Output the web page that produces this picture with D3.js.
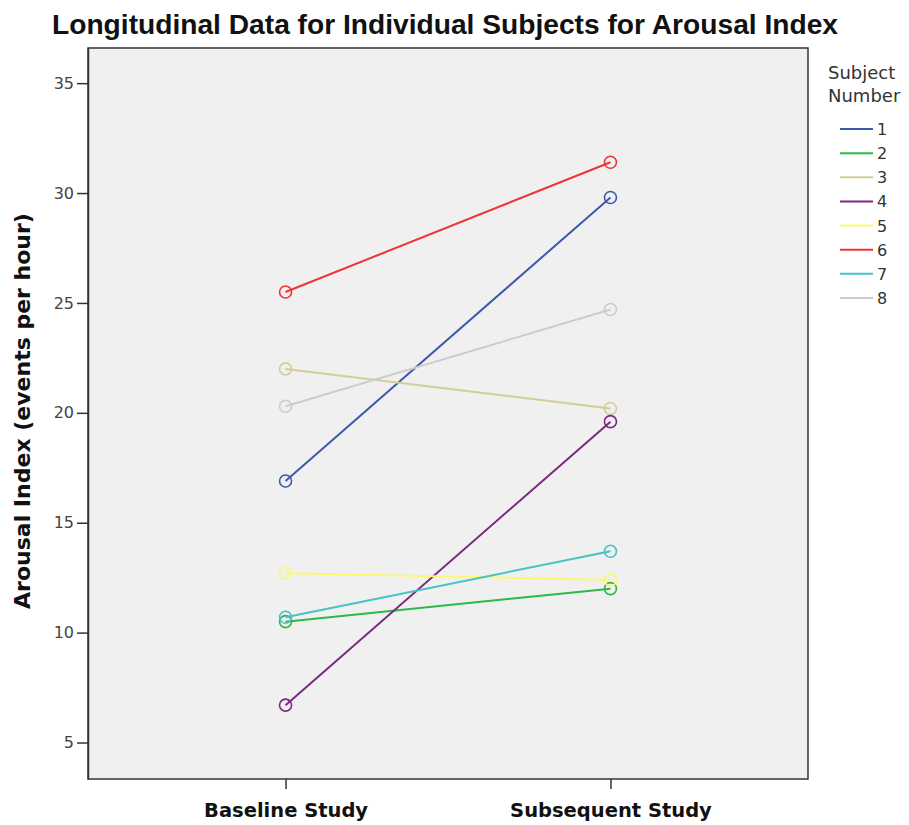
<!DOCTYPE html>
<html><head><meta charset="utf-8">
<script src="https://cdn.jsdelivr.net/npm/d3@7"></script>
<style>body{margin:0;background:#fff}svg{display:block}</style>
</head><body>
<script>
const categories = ["Baseline Study", "Subsequent Study"];
const subjects = ["1","2","3","4","5","6","7","8"];
const baseline   = [16.9, 10.5, 22.0, 6.7, 12.7, 25.5, 10.7, 20.3];
const subsequent = [29.8, 12.0, 20.2, 19.6, 12.4, 31.4, 13.7, 24.7];
const colors = ["#3E58AC","#2EB848","#D3CE97","#7C287D","#FBF873","#EF3338","#48C2C5","#CCCCCC"];
const yTicks = [5,10,15,20,25,30,35];

const W=909,H=825;
const L=88,R=808,T=48,B=779;
const svg=d3.select("body").append("svg").attr("width",W).attr("height",H);

const x=d3.scalePoint().domain(categories).range([L,R]).padding(0.608);
const y=d3.scaleLinear().domain([3.34,36.6]).range([B,T]);

svg.append("rect").attr("x",L).attr("y",T).attr("width",R-L).attr("height",B-T)
  .attr("fill","#F0F0F0").attr("stroke","#333").attr("stroke-width",1.5);

// y axis
const ya=svg.append("g").attr("transform",`translate(${L},0)`)
  .call(d3.axisLeft(y).tickValues(yTicks).tickSize(11).tickSizeOuter(0).tickPadding(3));
ya.select(".domain").attr("stroke","#333").attr("stroke-width",1.5);
ya.selectAll(".tick line").attr("stroke","#333").attr("stroke-width",1.5);
ya.selectAll(".tick text").attr("font-family","DejaVu Sans, sans-serif").attr("font-size",16).attr("fill","#444");

// x axis
const xa=svg.append("g").attr("transform",`translate(0,${B})`)
  .call(d3.axisBottom(x).tickSize(10).tickSizeOuter(0).tickPadding(14));
xa.select(".domain").remove();
xa.selectAll(".tick line").attr("stroke","#333").attr("stroke-width",1.5);
xa.selectAll(".tick text").attr("font-family","DejaVu Sans, sans-serif").attr("font-weight","bold").attr("font-size",19.5).attr("fill","#111");

// lines
const data=subjects.map((s,i)=>({s,c:colors[i],pts:[[categories[0],baseline[i]],[categories[1],subsequent[i]]]}));
const g=svg.append("g");
data.forEach(d=>{
  g.append("path").attr("d",d3.line().x(p=>x(p[0])).y(p=>y(p[1]))(d.pts))
    .attr("fill","none").attr("stroke",d.c).attr("stroke-width",2);
  d.pts.forEach(p=>{
    g.append("circle").attr("cx",x(p[0])).attr("cy",y(p[1])).attr("r",6)
      .attr("fill","none").attr("stroke",d.c).attr("stroke-width",1.6);
  });
});

// title
svg.append("text").attr("x",445).attr("y",34).attr("text-anchor","middle")
  .attr("font-family","Liberation Sans, Arial, sans-serif").attr("font-weight","bold")
  .attr("font-size",27).attr("fill","#111")
  .attr("textLength",786).attr("lengthAdjust","spacingAndGlyphs")
  .text("Longitudinal Data for Individual Subjects for Arousal Index");

// y label
svg.append("text").attr("transform","translate(30,411) rotate(-90)").attr("text-anchor","middle")
  .attr("font-family","DejaVu Sans, sans-serif").attr("font-weight","bold").attr("font-size",22).attr("fill","#111")
  .text("Arousal Index (events per hour)");

// legend
const lg=svg.append("g");
lg.append("text").attr("x",828).attr("y",79).attr("font-family","DejaVu Sans, sans-serif").attr("font-size",18).attr("fill","#333").text("Subject");
lg.append("text").attr("x",828).attr("y",102).attr("font-family","DejaVu Sans, sans-serif").attr("font-size",18).attr("fill","#333").text("Number");
const ly=d3.scalePoint().domain(subjects).range([129,298]);
subjects.forEach((s,i)=>{
  lg.append("line").attr("x1",840).attr("x2",873).attr("y1",ly(s)).attr("y2",ly(s)).attr("stroke",colors[i]).attr("stroke-width",2);
  lg.append("text").attr("x",877).attr("y",ly(s)+6).attr("font-family","DejaVu Sans, sans-serif").attr("font-size",16).attr("fill","#333").text(s);
});
</script>
</body></html>
